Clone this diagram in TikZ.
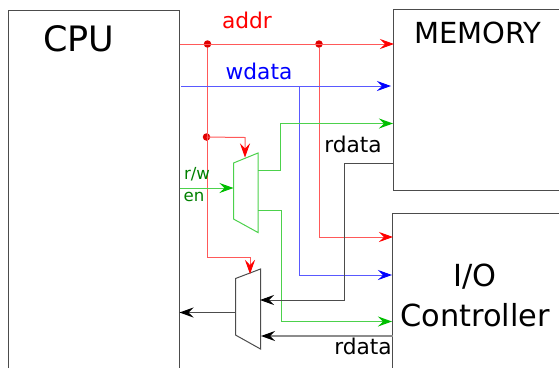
\documentclass[tikz,border=0pt]{standalone}
\usepackage{fontspec}
\setmainfont{DejaVu Sans}
\usetikzlibrary{arrows.meta,calc}
\definecolor{cred}{RGB}{255,0,0}
\definecolor{cblue}{RGB}{0,0,255}
\definecolor{cgreen}{RGB}{0,190,0}
\definecolor{dgreen}{RGB}{0,128,0}
\definecolor{dotred}{RGB}{225,0,0}
\tikzset{
 wire/.style={line width=1pt},
 redw/.style={wire,draw=cred!65,-{Stealth[length=14pt,width=10pt,inset=5pt,color=cred]}},
 bluew/.style={wire,draw=cblue!65,-{Stealth[length=14pt,width=10pt,inset=5pt,color=cblue]}},
 greenw/.style={wire,draw=cgreen!70,-{Stealth[length=14pt,width=10pt,inset=5pt,color=cgreen]}},
 blackw/.style={wire,draw=black!70,-{Stealth[length=14pt,width=10pt,inset=5pt,color=black]}},
 box/.style={line width=1pt,draw=black!70},
 dotn/.style={circle,fill=dotred,inner sep=0pt,minimum size=7.5pt},
 lbl/.style={inner sep=0pt,anchor=base},
}
\begin{document}
\begin{tikzpicture}[x=1pt,y=-1pt]
\useasboundingbox (0,0) rectangle (559,368);
% boxes
\draw[box] (8,368) -- (8,10) -- (179.5,10) -- (179.5,368);
\draw[box] (559,9.5) -- (393.5,9.5) -- (393.5,190) -- (559,190);
\draw[box] (559,213) -- (392.5,213) -- (392.5,368);
% muxes
\coordinate (m1a) at (233.5,163);
\coordinate (m1b) at (258,153);
\coordinate (m1c) at (258,232.5);
\coordinate (m1d) at (233.5,219);
\draw[line width=1pt,draw=cgreen!70] (m1a) -- (m1b) -- (m1c) -- (m1d) -- cycle;
\coordinate (m2a) at (235.5,278.5);
\coordinate (m2b) at (260.5,269);
\coordinate (m2c) at (260.5,349);
\coordinate (m2d) at (235.5,335);
\draw[box] (m2a) -- (m2b) -- (m2c) -- (m2d) -- cycle;
% junctions
\node[dotn] (j1) at (207.5,44) {};
\node[dotn] (j2) at (319,44) {};
\node[dotn] (j3) at (206.5,137) {};
% port coordinates
\coordinate (cpuA) at (179.5,44);
\coordinate (memA) at (394,44);
\coordinate (cpuW) at (181,86);
\coordinate (memW) at (391,86);
\coordinate (jw) at (299,86);
\coordinate (ioA) at (393,237);
\coordinate (ioW) at (392,275);
\coordinate (cpuE) at (179.5,188);
\coordinate (m1e) at (233.5,188);
\coordinate (m1o1) at (258,170);
\coordinate (memG) at (393,123.5);
\coordinate (m1o2) at (258,210);
\coordinate (ioG) at (392,321.5);
\coordinate (memR) at (393.5,163);
\coordinate (m2r1) at (260,300);
\coordinate (ioR) at (392.5,336);
\coordinate (m2r2) at (261,336);
\coordinate (m2o) at (235.5,312.5);
\coordinate (cpuR) at (179.5,312.5);
\coordinate (m1s) at (245,157.5);
\coordinate (m2s) at (250,274);
% wires
\draw[redw] (cpuA) -- (memA);
\draw[redw] (j1) |- (m2s |- 0,257) -- (m2s);
\draw[redw] (j3.center) -- (245,137.5) -- (m1s);
\draw[redw] (j2) |- (ioA);
\draw[bluew] (cpuW) -- (memW);
\draw[bluew] (jw) |- (ioW);
\draw[greenw] (cpuE) -- (m1e);
\draw[greenw] (m1o1) -| (280,123.5) -- (memG);
\draw[greenw] (m1o2) -| (281,321.5) -- (ioG);
\draw[blackw] (memR) -| (344,300) -- (m2r1);
\draw[blackw,line width=1.6pt,draw=black!45] (ioR) -- (m2r2);
\draw[blackw] (m2o) -- (cpuR);
% labels
\node[lbl,text=cred,font=\fontsize{21.7}{24}\selectfont] (laddr) at (247,28) {addr};
\node[lbl,text=cblue,font=\fontsize{21.7}{24}\selectfont] (lwd) at (259,79) {wdata};
\node[lbl,font=\fontsize{21.7}{24}\selectfont] (lrd1) at (353,152) {rdata};
\node[lbl,font=\fontsize{21.7}{24}\selectfont] (lrd2) at (363,354) {rdata};
\node[lbl,text=dgreen,font=\fontsize{16.6}{20}\selectfont] (lrw) at (197,179) {r/w};
\node[lbl,text=dgreen,font=\fontsize{16.6}{20}\selectfont] (len) at (194,201) {en};
\node[lbl,font=\fontsize{35}{40}\selectfont] (lcpu) at (79,51) {CPU};
\node[lbl,font=\fontsize{29}{34}\selectfont] (lmem) at (478,43) {MEMORY};
\node[lbl,font=\fontsize{30.4}{36}\selectfont] (lio) at (475,286) {I/O};
\node[lbl,font=\fontsize{30.4}{36}\selectfont] (lctl) at (475,326) {Controller};
\end{tikzpicture}
\end{document}
